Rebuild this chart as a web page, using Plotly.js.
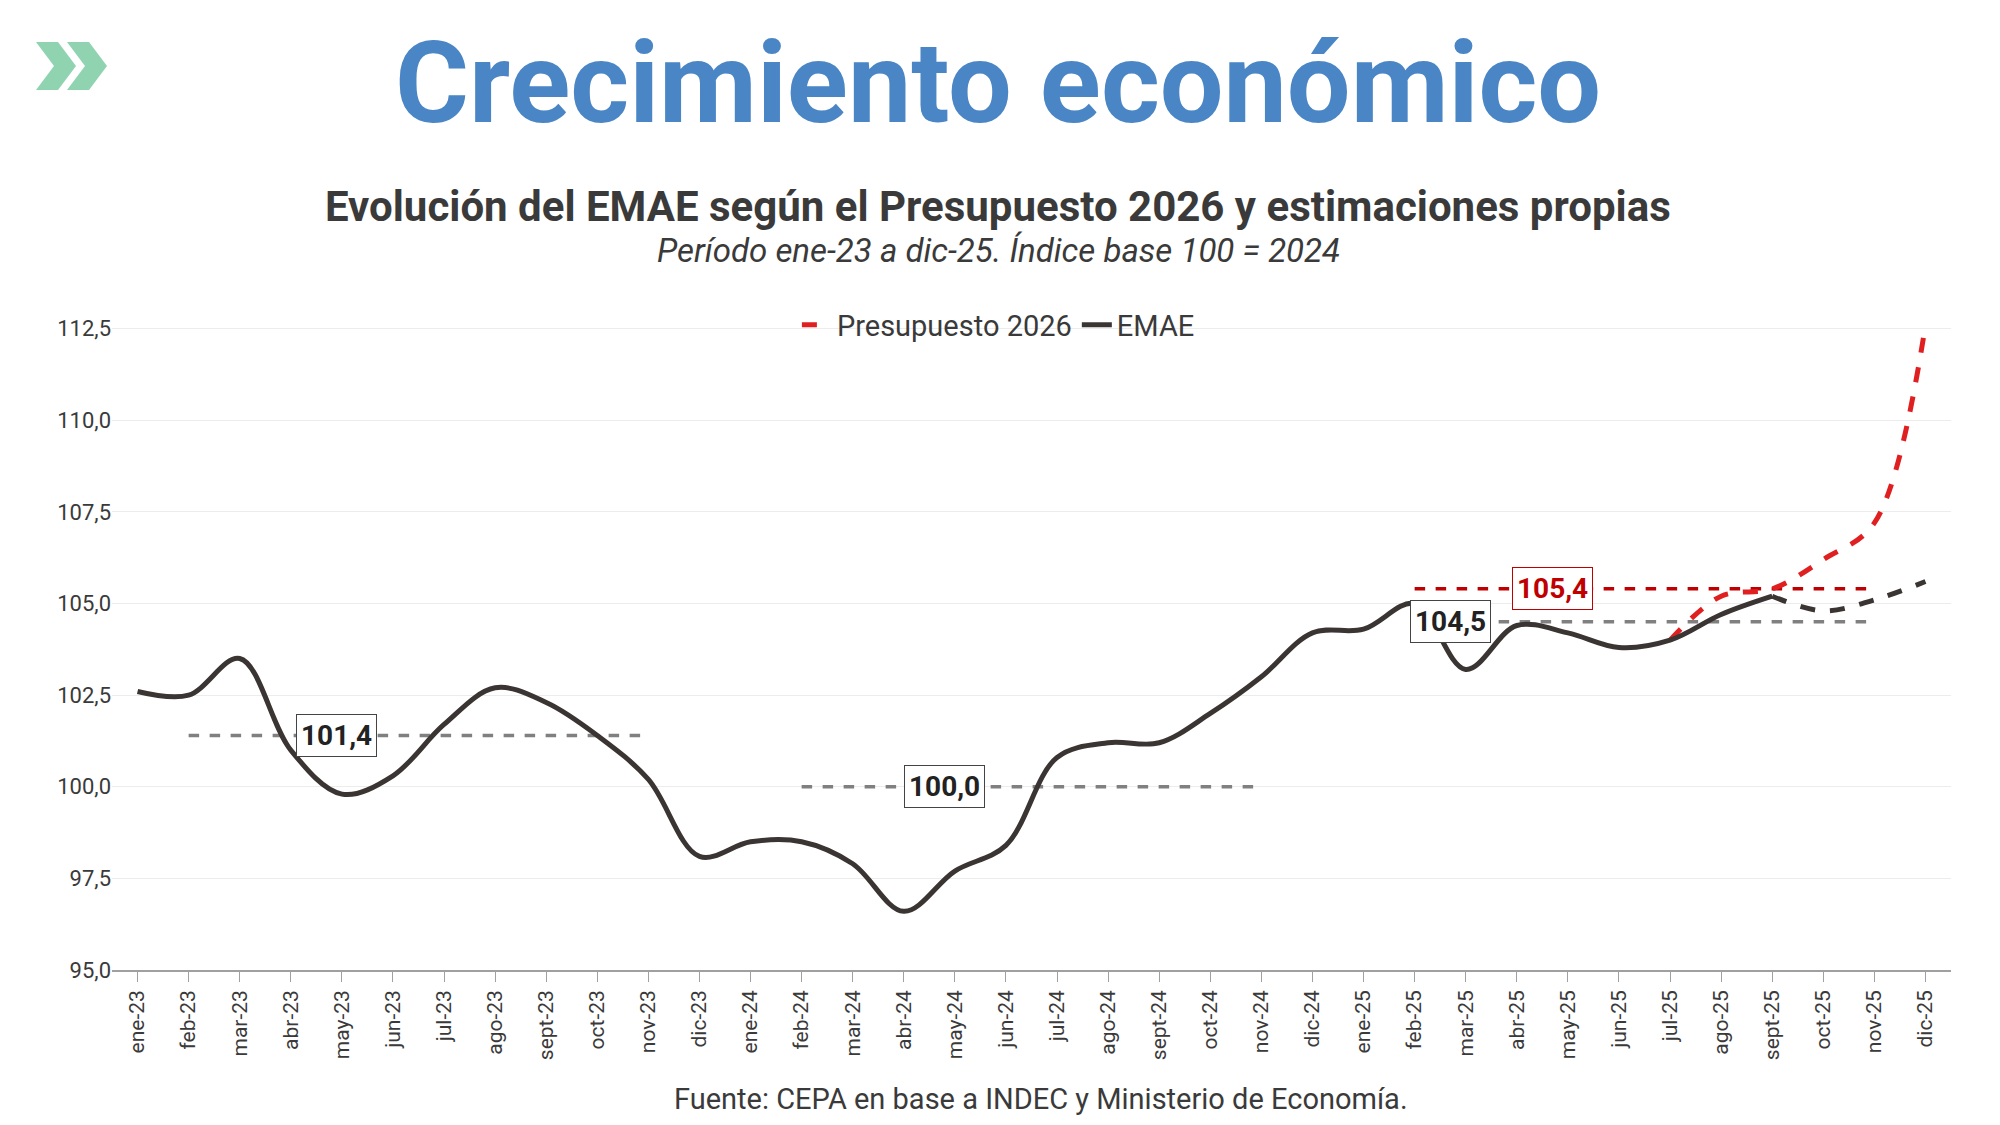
<!DOCTYPE html><html><head><meta charset="utf-8"><script src="https://cdn.plot.ly/plotly-3.0.1.min.js"></script>
<style>body{margin:0;background:#fff}#c{width:2000px;height:1125px}</style></head><body><div id="c"></div><script>
const months=["ene-23","feb-23","mar-23","abr-23","may-23","jun-23","jul-23","ago-23","sept-23","oct-23","nov-23","dic-23","ene-24","feb-24","mar-24","abr-24","may-24","jun-24","jul-24","ago-24","sept-24","oct-24","nov-24","dic-24","ene-25","feb-25","mar-25","abr-25","may-25","jun-25","jul-25","ago-25","sept-25","oct-25","nov-25","dic-25"];
const emae=[102.6,102.5,103.5,101.0,99.8,100.3,101.7,102.7,102.3,101.4,100.2,98.1,98.5,98.5,97.9,96.6,97.7,98.4,100.8,101.2,101.2,102.0,103.0,104.2,104.3,105.0,103.2,104.4,104.2,103.8,104.0,104.7,105.2];
const estMonths=["sept-25","oct-25","nov-25","dic-25"];
const est=[105.2,104.8,105.1,105.6];
const presMonths=["jul-25","ago-25","sept-25","oct-25","nov-25","dic-25"];
const pres=[104.0,105.2,105.4,106.2,107.2,112.6];
const avgs=[{v:101.4,from:"feb-23",to:"nov-23",lab:"abr-23",off:0.9,color:"#808080",txt:"#222"},
{v:100.0,from:"feb-24",to:"nov-24",lab:"may-24",off:-0.2,color:"#808080",txt:"#222"},
{v:104.5,from:"feb-25",to:"nov-25",lab:"mar-25",off:-0.3,color:"#808080",txt:"#222"},
{v:105.4,from:"feb-25",to:"nov-25",lab:"may-25",off:-0.3,color:"#c00000",txt:"#c00000"}];
const ax=m=>months.indexOf(m);
const traces=[];
avgs.forEach(a=>traces.push({x:[ax(a.from),ax(a.to)],y:[a.v,a.v],mode:"lines",line:{color:a.color,width:3.5,dash:"dash"},showlegend:false,hoverinfo:"skip"}));
traces.push({x:presMonths.map(ax),y:pres,mode:"lines",name:"Presupuesto 2026",line:{color:"#e02020",width:5,dash:"dash",shape:"spline"}});
traces.push({x:emae.map((v,i)=>i),y:emae,mode:"lines",name:"EMAE",line:{color:"#3a3433",width:5,shape:"spline"}});
traces.push({x:estMonths.map(ax),y:est,mode:"lines",showlegend:false,line:{color:"#3a3433",width:5,dash:"dash",shape:"spline"}});
const ann=avgs.map(a=>({x:ax(a.lab)+a.off,y:a.v,text:"<b>"+a.v.toFixed(1).replace(".",",")+"</b>",showarrow:false,bgcolor:"#fff",bordercolor:a.color=="#c00000"?"#c00000":"#444",borderwidth:1,borderpad:4,font:{family:"Roboto",size:28,color:a.txt}}));
const cx=0.482;
ann.push({xref:"paper",yref:"paper",x:cx,y:1.374,yanchor:"middle",xanchor:"center",text:"<b>Crecimiento económico</b>",showarrow:false,font:{family:"Roboto",size:113,color:"#4a86c5"}});
ann.push({xref:"paper",yref:"paper",x:cx,y:1.183,yanchor:"middle",xanchor:"center",text:"<b>Evolución del EMAE según el Presupuesto 2026 y estimaciones propias</b>",showarrow:false,font:{family:"Roboto",size:42,color:"#3a3a3a"}});
ann.push({xref:"paper",yref:"paper",x:cx,y:1.115,yanchor:"middle",xanchor:"center",text:"<i>Período ene-23 a dic-25. Índice base 100 = 2024</i>",showarrow:false,font:{family:"Roboto",size:33,color:"#3a3a3a"}});
ann.push({xref:"paper",yref:"paper",x:0.505,y:-0.2,yanchor:"middle",xanchor:"center",text:"Fuente: CEPA en base a INDEC y Ministerio de Economía.",showarrow:false,font:{family:"Roboto",size:29,color:"#3a3a3a"}});
const chev=d=>({type:"path",xref:"paper",yref:"paper",xsizemode:"pixel",ysizemode:"pixel",xanchor:0,yanchor:1,
 path:`M${-76+d},283 L${-54+d},283 L${-36+d},259 L${-54+d},235 L${-76+d},235 L${-58+d},259 Z`,fillcolor:"#8fd3b0",line:{width:0}});
Plotly.newPlot("c",traces,{width:2000,height:1125,margin:{l:112,r:49,t:325,b:155},paper_bgcolor:"#fff",plot_bgcolor:"#fff",
font:{family:"Roboto",color:"#3a3a3a"},
xaxis:{range:[-0.5,35.5],tickmode:"array",tickvals:months.map((m,i)=>i),ticktext:months,tickangle:-90,tickfont:{size:21,color:"#3a3a3a"},showgrid:false,zeroline:false,showline:true,linecolor:"#a0a0a0",linewidth:1.5,ticks:"outside",ticklen:10,tickcolor:"#a0a0a0"},
yaxis:{range:[95,112.6],tickvals:[95,97.5,100,102.5,105,107.5,110,112.5],ticktext:["95,0","97,5","100,0","102,5","105,0","107,5","110,0","112,5"],tickfont:{size:22,color:"#3a3a3a"},gridcolor:"#ececec",zeroline:false,showline:false},
legend:{orientation:"h",x:0.482,xanchor:"center",y:1.0,yanchor:"middle",font:{size:29,color:"#3a3a3a"},bgcolor:"rgba(0,0,0,0)"},
shapes:[chev(0),chev(31)],
annotations:ann},{displayModeBar:false});
</script></body></html>
